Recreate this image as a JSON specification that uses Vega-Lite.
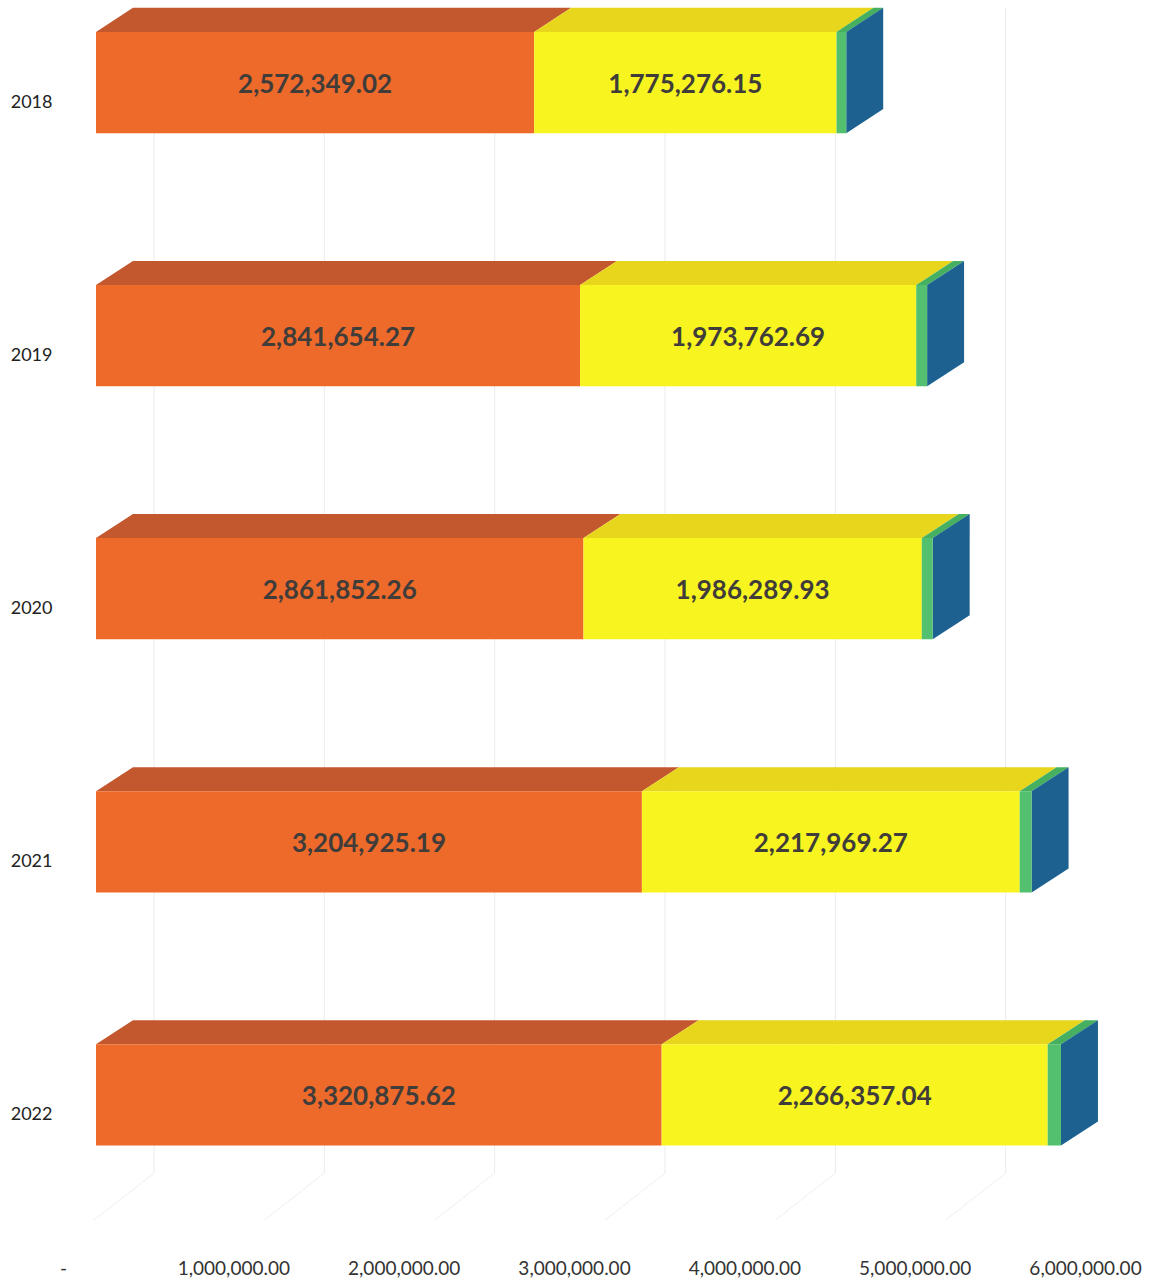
{
  "$schema": "https://vega.github.io/schema/vega-lite/v6.json",
  "width": 1022,
  "height": 1240,
  "autosize": {"type": "none"},
  "padding": {"left": 96, "top": 0, "right": 34, "bottom": 42},
  "background": "white",
  "config": {
    "view": {"stroke": null},
    "font": "Lato",
    "axis": {"grid": false, "domain": false, "ticks": false, "title": null}
  },
  "data": {
    "values": [
      {"year": 2018, "part": 1, "value": 2572349.02},
      {"year": 2018, "part": 2, "value": 1775276.15},
      {"year": 2018, "part": 3, "value": 57000},
      {"year": 2019, "part": 1, "value": 2841654.27},
      {"year": 2019, "part": 2, "value": 1973762.69},
      {"year": 2019, "part": 3, "value": 64000},
      {"year": 2020, "part": 1, "value": 2861852.26},
      {"year": 2020, "part": 2, "value": 1986289.93},
      {"year": 2020, "part": 3, "value": 64000},
      {"year": 2021, "part": 1, "value": 3204925.19},
      {"year": 2021, "part": 2, "value": 2217969.27},
      {"year": 2021, "part": 3, "value": 70000},
      {"year": 2022, "part": 1, "value": 3320875.62},
      {"year": 2022, "part": 2, "value": 2266357.04},
      {"year": 2022, "part": 3, "value": 78000}
    ]
  },
  "layer": [
    {
      "data": {"values": [{"tick": 0}, {"tick": 1000000}, {"tick": 2000000}, {"tick": 3000000}, {"tick": 4000000}, {"tick": 5000000}]},
      "mark": {"type": "rule", "color": "#ebebeb", "strokeWidth": 1, "xOffset": 58},
      "encoding": {
        "x": {"field": "tick", "type": "quantitative"},
        "y": {"datum": 2017.706, "type": "quantitative"},
        "y2": {"datum": 2022.309}
      }
    },
    {
      "data": {"values": [{"tick": 0}, {"tick": 1000000}, {"tick": 2000000}, {"tick": 3000000}, {"tick": 4000000}, {"tick": 5000000}]},
      "mark": {"type": "rule", "color": "#efefef", "strokeWidth": 1, "xOffset": 58, "x2Offset": -2},
      "encoding": {
        "x": {"field": "tick", "type": "quantitative"},
        "x2": {"field": "tick"},
        "y": {"datum": 2022.309, "type": "quantitative"},
        "y2": {"datum": 2022.494}
      }
    },
    {
      "transform": [
        {"stack": "value", "groupby": ["year"], "sort": [{"field": "part", "order": "ascending"}], "as": ["x0", "x1"]},
        {"calculate": "datum.year - 0.2", "as": "yFrontTop"},
        {"calculate": "datum.x0", "as": "p0"},
        {"calculate": "datum.x1", "as": "p1"},
        {"calculate": "datum.x0 + 217000", "as": "p2"},
        {"calculate": "datum.x1 + 217000", "as": "p3"},
        {"fold": ["p0", "p1", "p2", "p3"], "as": ["corner", "px"]},
        {"calculate": "min(max((datum.px - datum.x0) / 217000, 0), 1)", "as": "tL"},
        {"calculate": "min(max((datum.px - datum.x1) / 217000, 0), 1)", "as": "tR"},
        {"calculate": "datum.yFrontTop - 0.095 * datum.tL", "as": "yHi"},
        {"calculate": "datum.yFrontTop - 0.095 * datum.tR", "as": "yLo"},
        {"calculate": "datum.year + '-' + datum.part", "as": "face"}
      ],
      "mark": {"type": "area", "orient": "vertical"},
      "encoding": {
        "x": {"field": "px", "type": "quantitative"},
        "y": {"field": "yLo", "type": "quantitative", "stack": null},
        "y2": {"field": "yHi"},
        "fill": {
          "field": "part", "type": "nominal",
          "scale": {"domain": [1, 2, 3], "range": ["#c3572e", "#e7d61c", "#46b061"]},
          "legend": null
        },
        "detail": {"field": "face", "type": "nominal"}
      }
    },
    {
      "transform": [
        {"stack": "value", "groupby": ["year"], "sort": [{"field": "part", "order": "ascending"}], "as": ["x0", "x1"]},
        {"filter": "datum.part == 3"},
        {"calculate": "datum.year - 0.2", "as": "yFrontTop"},
        {"calculate": "datum.year + 0.2", "as": "yFrontBottom"},
        {"calculate": "datum.x1", "as": "q0"},
        {"calculate": "datum.x1 + 217000", "as": "q1"},
        {"fold": ["q0", "q1"], "as": ["edge", "px"]},
        {"calculate": "(datum.px - datum.x1) / 217000", "as": "t"},
        {"calculate": "datum.yFrontTop - 0.095 * datum.t", "as": "yHi"},
        {"calculate": "datum.yFrontBottom - 0.095 * datum.t", "as": "yLo"}
      ],
      "mark": {"type": "area", "orient": "vertical", "color": "#1c6190"},
      "encoding": {
        "x": {"field": "px", "type": "quantitative"},
        "y": {"field": "yLo", "type": "quantitative", "stack": null},
        "y2": {"field": "yHi"},
        "detail": {"field": "year", "type": "nominal"}
      }
    },
    {
      "transform": [
        {"stack": "value", "groupby": ["year"], "sort": [{"field": "part", "order": "ascending"}], "as": ["x0", "x1"]},
        {"calculate": "datum.year - 0.2", "as": "yFrontTop"},
        {"calculate": "datum.year + 0.2", "as": "yFrontBottom"}
      ],
      "mark": {"type": "rect"},
      "encoding": {
        "x": {
          "field": "x0", "type": "quantitative",
          "scale": {"domain": [0, 6000000], "nice": false, "zero": true},
          "axis": {
            "values": [0, 1000000, 2000000, 3000000, 4000000, 5000000, 6000000],
            "labelExpr": "datum.value == 0 ? '-' : format(datum.value, ',.2f')",
            "labelFontSize": 19, "labelColor": "#333333", "labelOffset": -33,
            "labelPadding": 19, "labelFlush": false, "labelOverlap": false, "labelFont": "Lato"
          }
        },
        "x2": {"field": "x1"},
        "y": {
          "field": "yFrontTop", "type": "quantitative",
          "scale": {"domain": [2017.674, 2022.573], "nice": false, "zero": false, "reverse": true},
          "axis": {
            "values": [2018, 2019, 2020, 2021, 2022], "format": "d",
            "labelFontSize": 18, "labelColor": "#222222", "labelOffset": 20,
            "labelPadding": 44, "labelFont": "Lato"
          }
        },
        "y2": {"field": "yFrontBottom"},
        "color": {
          "field": "part", "type": "nominal",
          "scale": {"domain": [1, 2, 3], "range": ["#ee6a2b", "#f7f420", "#52c06e"]},
          "legend": null
        }
      }
    },
    {
      "transform": [
        {"stack": "value", "groupby": ["year"], "sort": [{"field": "part", "order": "ascending"}], "as": ["x0", "x1"]},
        {"filter": "datum.part <= 2"},
        {"calculate": "(datum.x0 + datum.x1) / 2", "as": "xMid"}
      ],
      "mark": {"type": "text", "font": "Lato", "fontWeight": "bold", "fontSize": 26, "color": "#403c3a", "baseline": "middle", "align": "center", "dy": 2},
      "encoding": {
        "x": {"field": "xMid", "type": "quantitative"},
        "y": {"field": "year", "type": "quantitative"},
        "text": {"field": "value", "type": "quantitative", "format": ",.2f"}
      }
    }
  ]
}
